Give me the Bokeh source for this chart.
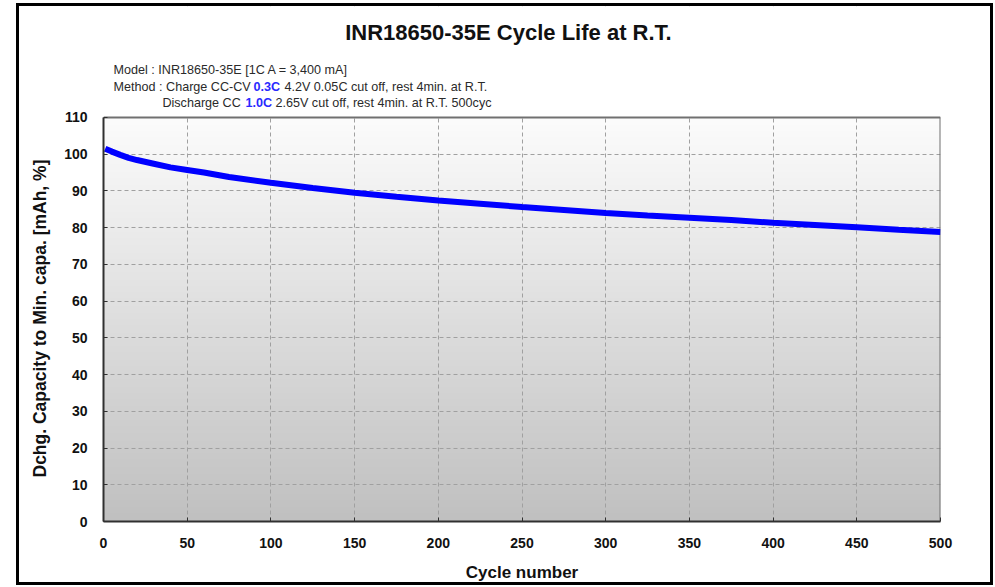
import numpy as np
from bokeh.plotting import figure
from bokeh.layouts import column, row
from bokeh.models import Label, FixedTicker, Range1d, Spacer, Title
from bokeh.embed import file_html
from bokeh.resources import INLINE

# ---- data ----
cycles = [1, 5, 10, 15, 20, 30, 40, 50, 60, 75, 100, 125, 150, 175, 200,
          225, 250, 275, 300, 325, 350, 375, 400, 425, 450, 475, 500]
capacity = [101.5, 100.7, 99.8, 99.0, 98.4, 97.4, 96.4, 95.7, 95.0, 93.8,
            92.2, 90.8, 89.5, 88.4, 87.4, 86.5, 85.6, 84.8, 84.0, 83.3,
            82.7, 82.1, 81.3, 80.7, 80.1, 79.4, 78.8]

x_ticks = [0, 50, 100, 150, 200, 250, 300, 350, 400, 450, 500]
y_ticks = [0, 10, 20, 30, 40, 50, 60, 70, 80, 90, 100, 110]

title_text = "INR18650-35E Cycle Life at R.T."
x_title = "Cycle number"
y_title = "Dchg. Capacity to Min. capa.  [mAh, %]"
model_text = "Model : INR18650-35E  [1C A = 3,400 mA]"
method_a = "Method : Charge CC-CV"
method_b = "0.3C"
method_c = "4.2V 0.05C cut off, rest 4min. at R.T."
disch_a = "Discharge CC"
disch_b = "1.0C"
disch_c = "2.65V cut off, rest 4min. at R.T.  500cyc"

FONT = "Liberation Sans"
W, H = 977, 582          # outer size incl. 3px black border
X0, X1 = 0, 500
Y0, Y1 = 0, 110
Y_TOP = 140.2            # headroom above the plotting area for the header texts

p = figure(width=W, height=H,
           x_range=Range1d(X0, X1), y_range=Range1d(Y0, Y_TOP),
           output_backend="svg", toolbar_location=None,
           min_border_left=84, min_border_right=56,
           min_border_top=0, min_border_bottom=67,
           background_fill_color="white", border_fill_color="white")
p.styles = {"border": "3px solid black"}
p.outline_line_color = None

# gradient background of the plotting area
n = 256
t = np.linspace(0, 1, n).reshape(n, 1)  # row 0 = bottom
g = (192 + (252 - 192) * t).astype(np.uint8)
img = np.empty((n, 1), dtype=np.uint32)
view = img.view(dtype=np.uint8).reshape((n, 1, 4))
view[:, :, 0] = g
view[:, :, 1] = g
view[:, :, 2] = g
view[:, :, 3] = 255
p.image_rgba(image=[img], x=X0, y=Y0, dw=X1 - X0, dh=Y1 - Y0, level="image")

# white header band (hides grid lines above the plotting area)
p.quad(left=[X0], right=[X1], bottom=[Y1], top=[Y_TOP],
       fill_color="white", line_color=None)
# top and right edges of the plotting area
p.segment(x0=[X0, X1], y0=[Y1, Y0], x1=[X1, X1], y1=[Y1, Y1],
          line_color="#707070", line_width=2)

# curve
p.line(cycles, capacity, line_color="#0000ff", line_width=6)

# axes
p.xaxis.ticker = FixedTicker(ticks=x_ticks)
p.yaxis.ticker = FixedTicker(ticks=y_ticks)
p.yaxis.bounds = (Y0, Y1)
for ax in (p.xaxis[0], p.yaxis[0]):
    ax.axis_line_color = "#303030"
    ax.axis_line_width = 2
    ax.major_tick_in = 4
    ax.major_tick_out = 0
    ax.major_tick_line_color = "#303030"
    ax.minor_tick_line_color = None
    ax.major_label_text_font = FONT
    ax.major_label_text_font_style = "bold"
    ax.major_label_text_font_size = "14px"
    ax.major_label_text_color = "#111111"
    ax.axis_label_text_font = FONT
    ax.axis_label_text_font_style = "bold"
    ax.axis_label_text_font_size = "17px"
    ax.axis_label_text_color = "#111111"
p.xaxis.axis_label = x_title
p.xaxis.major_label_standoff = 16
p.yaxis.major_label_standoff = 16
p.xaxis.axis_label_standoff = 12

# y-axis title placed as a side title so it can be centred on the 0-110 span
p.add_layout(Title(text=y_title, align="left", offset=44, standoff=19,
                   vertical_align="top",
                   text_font=FONT, text_font_style="bold",
                   text_font_size="17.5px", text_color="#111111"), "left")

for grid in (p.xgrid[0], p.ygrid[0]):
    grid.grid_line_color = "#a0a0a0"
    grid.grid_line_dash = "4 3"
    grid.grid_line_width = 1

# header texts (data coordinates of the extended frame)
def lab(x, y, txt, size, color="#2a2a2a", bold=False, align="left"):
    p.add_layout(Label(x=x, y=y, text=txt, text_align=align,
                       text_baseline="middle", text_font=FONT,
                       text_font_style="bold" if bold else "normal",
                       text_font_size=size, text_color=color))

SMALL = "12.6px"
lab(241.9, 133.1, title_text, "22px", "#111111", True, "center")
lab(6.0, 122.8, model_text, SMALL)
lab(6.0, 118.4, method_a, SMALL)
lab(89.6, 118.4, method_b, SMALL, "#2a2aff", True)
lab(108.1, 118.4, method_c, SMALL)
lab(35.2, 113.8, disch_a, SMALL)
lab(84.8, 113.8, disch_b, SMALL, "#2a2aff", True)
lab(102.7, 113.8, disch_c, SMALL)

layout = column(Spacer(height=3), row(Spacer(width=16), p))
open("out.html", "w").write(file_html(layout, INLINE))
